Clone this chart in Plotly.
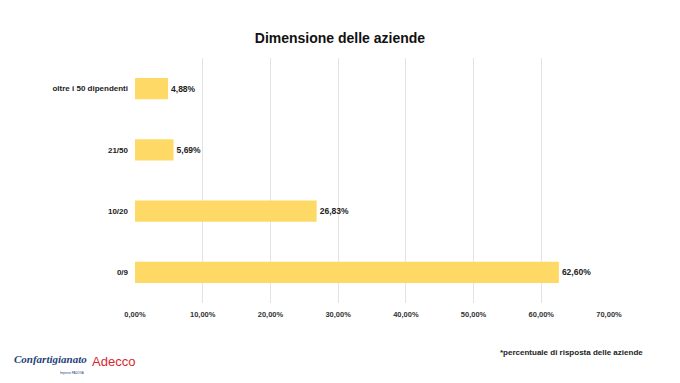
import plotly.graph_objects as go

categories = ["0/9", "10/20", "21/50", "oltre i 50 dipendenti"]
values = [62.60, 26.83, 5.69, 4.88]
tick_vals = [0, 10, 20, 30, 40, 50, 60, 70]
tick_text = ["0,00%", "10,00%", "20,00%", "30,00%", "40,00%", "50,00%", "60,00%", "70,00%"]
labels = [f"{v:.2f}%".replace(".", ",") for v in values]

FONT = "Arial, Liberation Sans, sans-serif"

fig = go.Figure(go.Bar(
    y=categories, x=values, orientation="h",
    marker=dict(color="#FFD966", line=dict(width=0)),
    text=labels, textposition="outside",
    textfont=dict(family=FONT, size=8.5, color="#222222", weight="bold"),
    cliponaxis=False,
))

fig.update_layout(
    width=672, height=375,
    paper_bgcolor="white", plot_bgcolor="white",
    margin=dict(l=127, r=71, t=50, b=80, autoexpand=False),
    bargap=0.65,
    showlegend=False,
    title=dict(text="<b>Dimensione delle aziende</b>", x=0.494, xanchor="center", y=0.92, yanchor="middle",
               font=dict(family=FONT, size=14, color="#111111")),
    xaxis=dict(range=[0, 70], tickvals=tick_vals, ticktext=tick_text,
               showgrid=True, gridcolor="#E3E3E3", gridwidth=1,
               zeroline=False, showline=False, ticks="", ticklabelstandoff=5,
               tickfont=dict(family=FONT, size=7.5, color="#333333", weight="bold")),
    yaxis=dict(showgrid=False, zeroline=False, showline=False, ticks="", ticklabelstandoff=6,
               tickfont=dict(family=FONT, size=8, color="#222222", weight="bold")),
    font=dict(family=FONT),
)

fig.add_annotation(text="<b>*percentuale di risposta delle aziende</b>", xref="paper", yref="paper",
                   x=1.076, y=-0.2025, showarrow=False, xanchor="right", yanchor="middle",
                   font=dict(family=FONT, size=8, color="#222222"))

fig.add_annotation(text="<b><i>Confartigianato</i></b>", xref="paper", yref="paper", x=-0.2595, y=-0.227,
                   showarrow=False, xanchor="left", yanchor="middle",
                   font=dict(family="Liberation Serif", size=11, color="#1F3F7A"))
fig.add_annotation(text="Imprese PADOVA", xref="paper", yref="paper", x=-0.162, y=-0.284,
                   showarrow=False, xanchor="left", yanchor="middle",
                   font=dict(family=FONT, size=3, color="#1F3F7A"))
fig.add_annotation(text="Adecco", xref="paper", yref="paper", x=-0.095, y=-0.239,
                   showarrow=False, xanchor="left", yanchor="middle",
                   font=dict(family=FONT, size=13, color="#D9262E"))

fig.write_html("out.html")
